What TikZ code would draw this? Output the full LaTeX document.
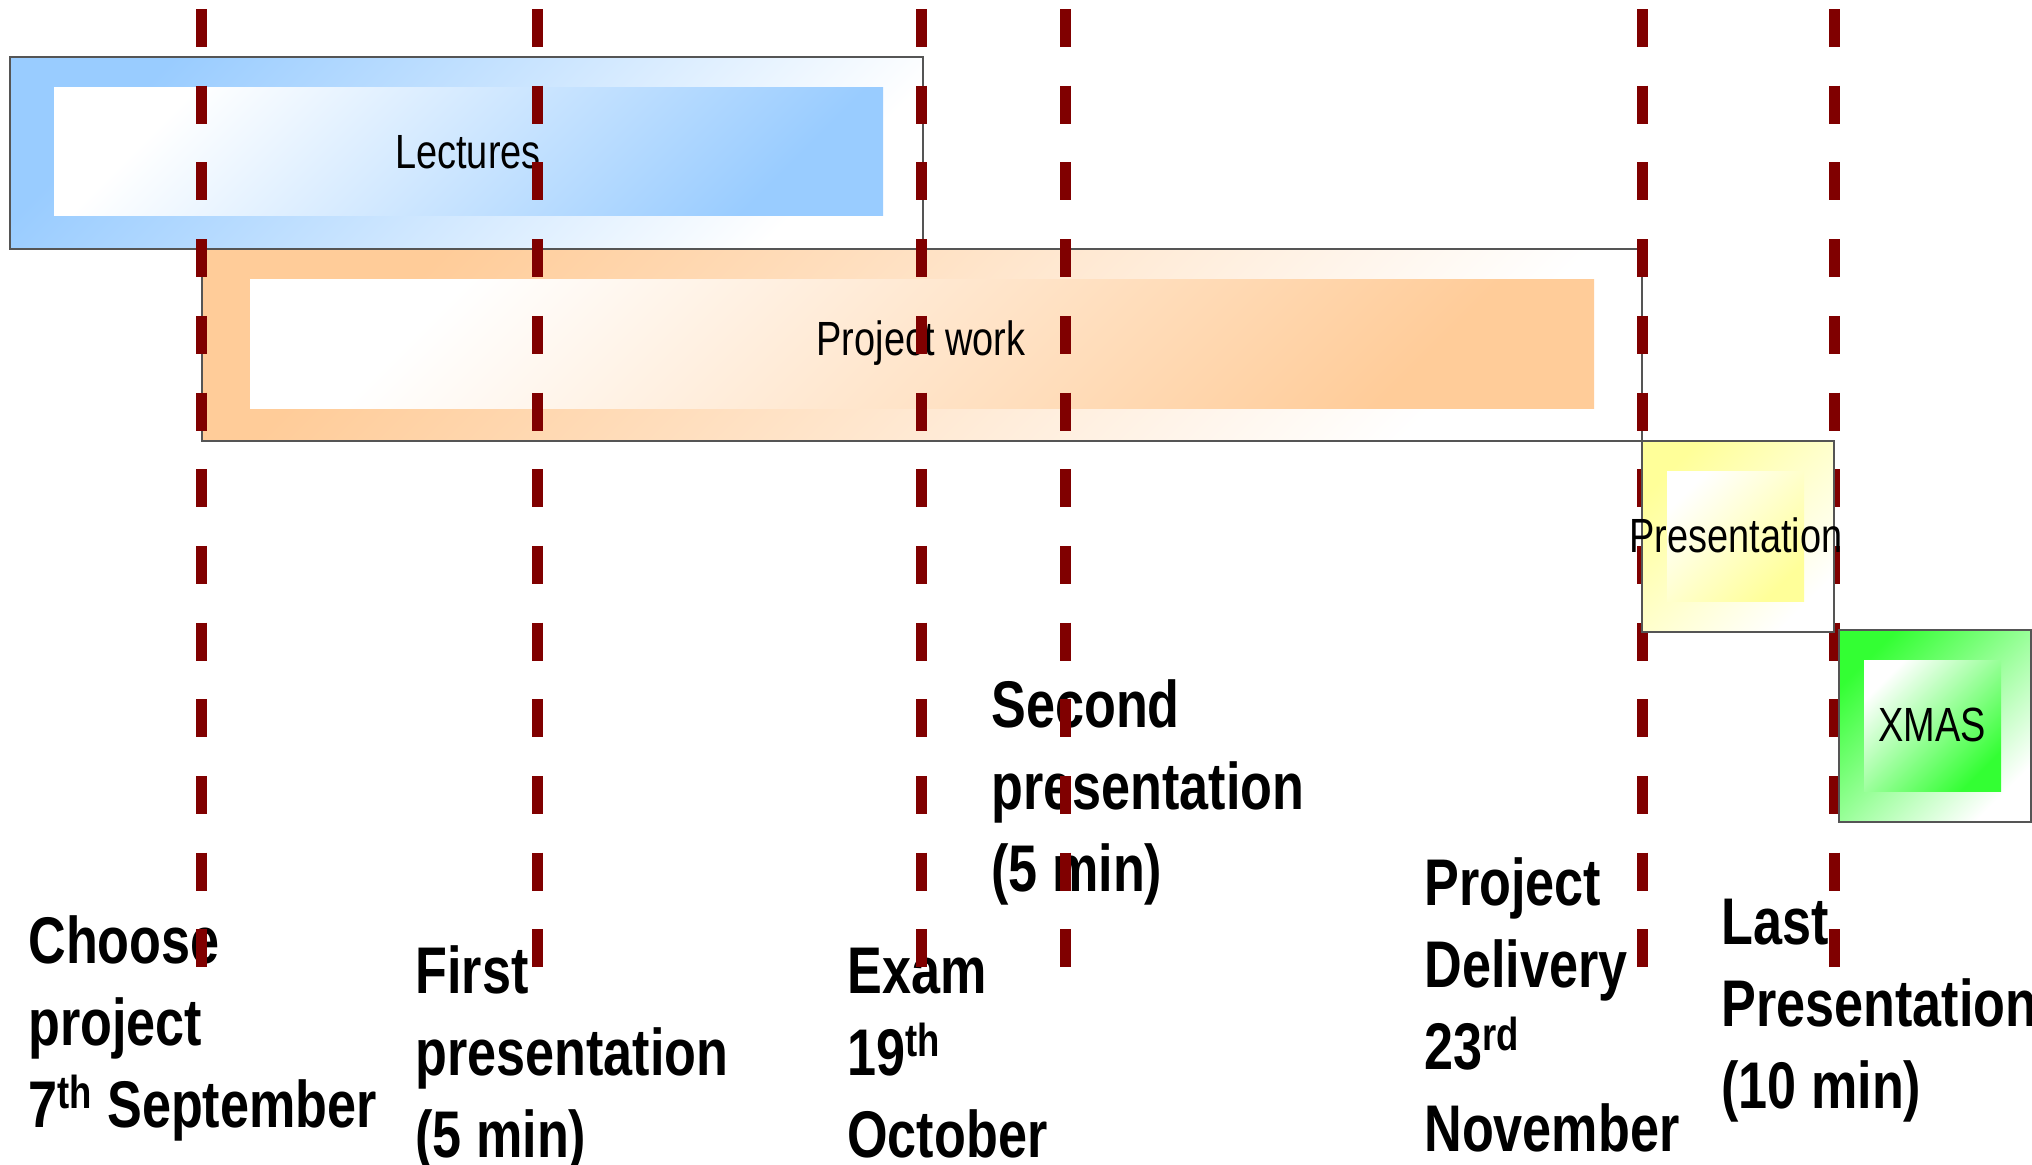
\documentclass[tikz,border=0pt]{standalone}
\usepackage{fontspec}
\setmainfont{Liberation Sans}[FakeStretch=0.79]
\definecolor{milestonered}{HTML}{800000}
\definecolor{lectureblue}{HTML}{99CCFF}
\definecolor{projectorange}{HTML}{FFCC99}
\definecolor{presyellow}{HTML}{FFFF99}
\definecolor{xmasgreen}{HTML}{33FF33}
\definecolor{boxgray}{HTML}{555555}
\begin{document}
\begin{tikzpicture}[x=0.5pt, y=-0.5pt,
        milestone/.style={color=milestonered, line width=5.5pt,
            dash pattern=on 19pt off 19.35pt},
        barout/.style={draw=boxgray, line width=0.6pt, top color=#1,
            bottom color=white, shading angle=45},
        barin/.style={top color=white, bottom color=#1, shading angle=45},
        bartext/.style={inner sep=0pt, font=\fontsize{24}{28}\selectfont},
        event/.style={anchor=base west, align=left, inner sep=0pt,
            font=\bfseries\fontsize{33}{41}\selectfont}]
\useasboundingbox (0,0) rectangle (2032,1164);
% lectures and project work
\shade[barout=lectureblue] (10,57) rectangle (923,249);
\shade[barin=lectureblue] (54,87) rectangle (883,215);
\node[bartext] (lectures) at (468,152) {Lectures};
\shade[barout=projectorange] (202,249) rectangle (1642,441);
\shade[barin=projectorange] (250,279) rectangle (1594,408);
\node[bartext] (project) at (921,343) {Project work};
% events (anchored at the last line)
\node[event] (choose) at (28,1127) {Choose\\project\\7\textsuperscript{th} September};
\node[event] (first) at (415,1157) {First\\presentation\\(5 min)};
\node[event] (exam) at (847,1157) {Exam\\19\textsuperscript{th}\\October};
\node[event] (second) at (991,891) {Second\\presentation\\(5 min)};
\node[event] (delivery) at (1424,1151) {Project\\Delivery\\23\textsuperscript{rd}\\November};
\node[event] (last) at (1721,1108) {Last\\Presentation\\(10 min)};
% milestones
\foreach \x in {201,537,921,1065,1642,1834}
    \draw[milestone] (\x,9) -- (\x,967);
% presentation and xmas
\shade[barout=presyellow] (1642,441) rectangle (1834,632);
\shade[barin=presyellow] (1667,471) rectangle (1804,601);
\node[bartext] (presentation) at (1736,535) {Presentation};
\shade[barout=xmasgreen] (1839,630) rectangle (2031,822);
\shade[barin=xmasgreen] (1864,660) rectangle (2001,791);
\node[bartext] (xmas) at (1932,725) {XMAS};
\end{tikzpicture}
\end{document}
